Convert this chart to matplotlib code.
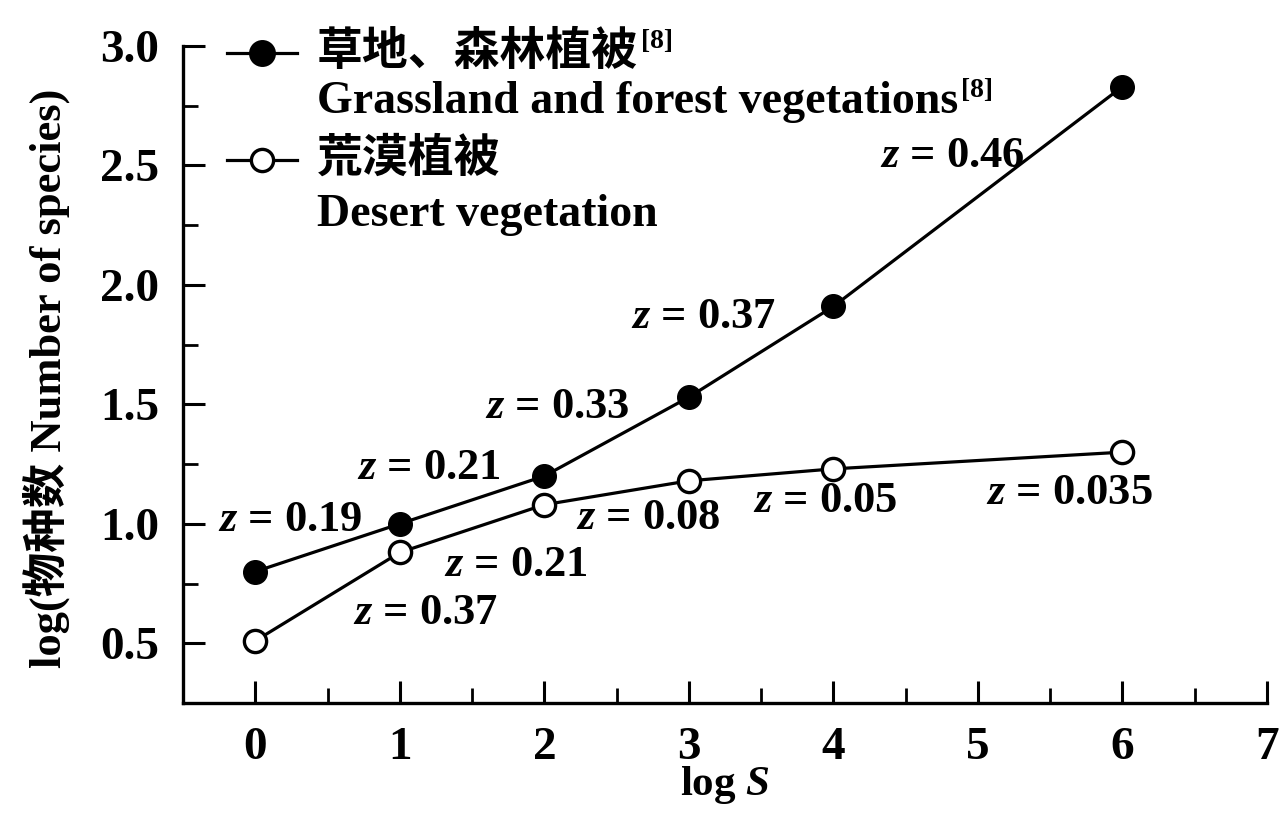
import matplotlib
matplotlib.use("Agg")
import matplotlib.pyplot as plt
from matplotlib.lines import Line2D
from matplotlib.ticker import MultipleLocator

plt.rcParams['font.family'] = ['Liberation Serif', 'Noto Sans CJK SC']
plt.rcParams['font.weight'] = 'bold'
plt.rcParams['mathtext.fontset'] = 'custom'
plt.rcParams['mathtext.rm'] = 'Liberation Serif:bold'
plt.rcParams['mathtext.it'] = 'Liberation Serif:bold:italic'

# data
log_s = [0, 1, 2, 3, 4, 6]
grass_forest = [0.80, 1.00, 1.20, 1.53, 1.91, 2.83]
desert = [0.51, 0.88, 1.08, 1.18, 1.23, 1.30]

grass_z = ['0.19', '0.21', '0.33', '0.37', '0.46']
desert_z = ['0.37', '0.21', '0.08', '0.05', '0.035']

grass_label_cn = '草地、森林植被'
grass_label_en = 'Grassland and forest vegetations'
desert_label_cn = '荒漠植被'
desert_label_en = 'Desert vegetation'
ref_mark = '[8]'

xticks = [0, 1, 2, 3, 4, 5, 6, 7]
yticks = [0.5, 1.0, 1.5, 2.0, 2.5, 3.0]

# label positions (data coords)
grass_z_pos = [(0.24, 1.015), (1.20, 1.232), (2.09, 1.49), (3.10, 1.864), (4.82, 2.538)]
desert_z_pos = [(1.18, 0.626), (1.80, 0.826), (2.72, 1.023), (3.94, 1.094), (5.63, 1.13)]

fig = plt.figure(figsize=(12.83, 8.14), dpi=100)
ax = fig.add_axes([183 / 1283, 111 / 814, 1084 / 1283, 657 / 814])

ax.plot(log_s, grass_forest, color='black', lw=2.3, marker='o', ms=17,
        mfc='black', mec='black', clip_on=False)
ax.plot(log_s, desert, color='black', lw=2.3, marker='o', ms=16,
        mfc='white', mec='black', mew=2.4, clip_on=False)

for (x, y), z in zip(grass_z_pos, grass_z):
    ax.text(x, y, r'$z$ = ' + z, fontsize=32, ha='center', va='center')
for (x, y), z in zip(desert_z_pos, desert_z):
    ax.text(x, y, r'$z$ = ' + z, fontsize=32, ha='center', va='center')

ax.set_xlim(-0.5, 7)
ax.set_ylim(0.25, 3.0)
ax.set_xticks(xticks)
ax.set_yticks(yticks)
ax.set_yticklabels([f'{v:.1f}' for v in yticks])
ax.xaxis.set_minor_locator(MultipleLocator(0.5))
ax.yaxis.set_minor_locator(MultipleLocator(0.25))
ax.tick_params(which='major', direction='in', length=16, width=2.2,
               labelsize=34, pad=17)
ax.tick_params(which='minor', direction='in', length=11, width=2)
for side in ['top', 'right']:
    ax.spines[side].set_visible(False)
for side in ['left', 'bottom']:
    ax.spines[side].set_linewidth(2.4)

ax.set_xlabel(r'log $S$', fontsize=31, fontweight='bold')
ax.set_ylabel('log(物种数 Number of species)', fontsize=32, fontweight='bold')
ax.xaxis.set_label_coords(0.5, (703 - 764) / 657)
ax.yaxis.set_label_coords((70 - 183) / 1084, (703 - 378) / 657)

# legend drawn by hand
tr = ax.transAxes
def ax_pt(px, py):
    return (px - 183) / 1084, (703 - py) / 657

for py, py_en, fill, ms, cn, en, ref in [
        (53, 102, 'black', 17, grass_label_cn, grass_label_en, True),
        (160, 215, 'white', 16, desert_label_cn, desert_label_en, False)]:
    x0, y0 = ax_pt(227, py)
    x1, _ = ax_pt(297, py)
    ax.add_line(Line2D([x0, x1], [y0, y0], transform=tr, color='black', lw=2.3,
                       clip_on=False))
    ax.add_line(Line2D([(x0 + x1) / 2], [y0], transform=tr, marker='o', ms=ms,
                       mfc=fill, mec='black', mew=2.4, clip_on=False))
    tx, ty = ax_pt(317, py)
    t1 = ax.text(tx, ty, cn, transform=tr, fontsize=33, ha='left', va='center')
    _, ty2 = ax_pt(317, py_en)
    t2 = ax.text(tx, ty2, en, transform=tr, fontsize=33, ha='left', va='center')
    if ref:
        for t in (t1, t2):
            ax.annotate(ref_mark, xy=(1, 1), xycoords=t, xytext=(2, 2),
                        textcoords='offset points', fontsize=20,
                        ha='left', va='top')

fig.savefig('out.png', dpi=100)
